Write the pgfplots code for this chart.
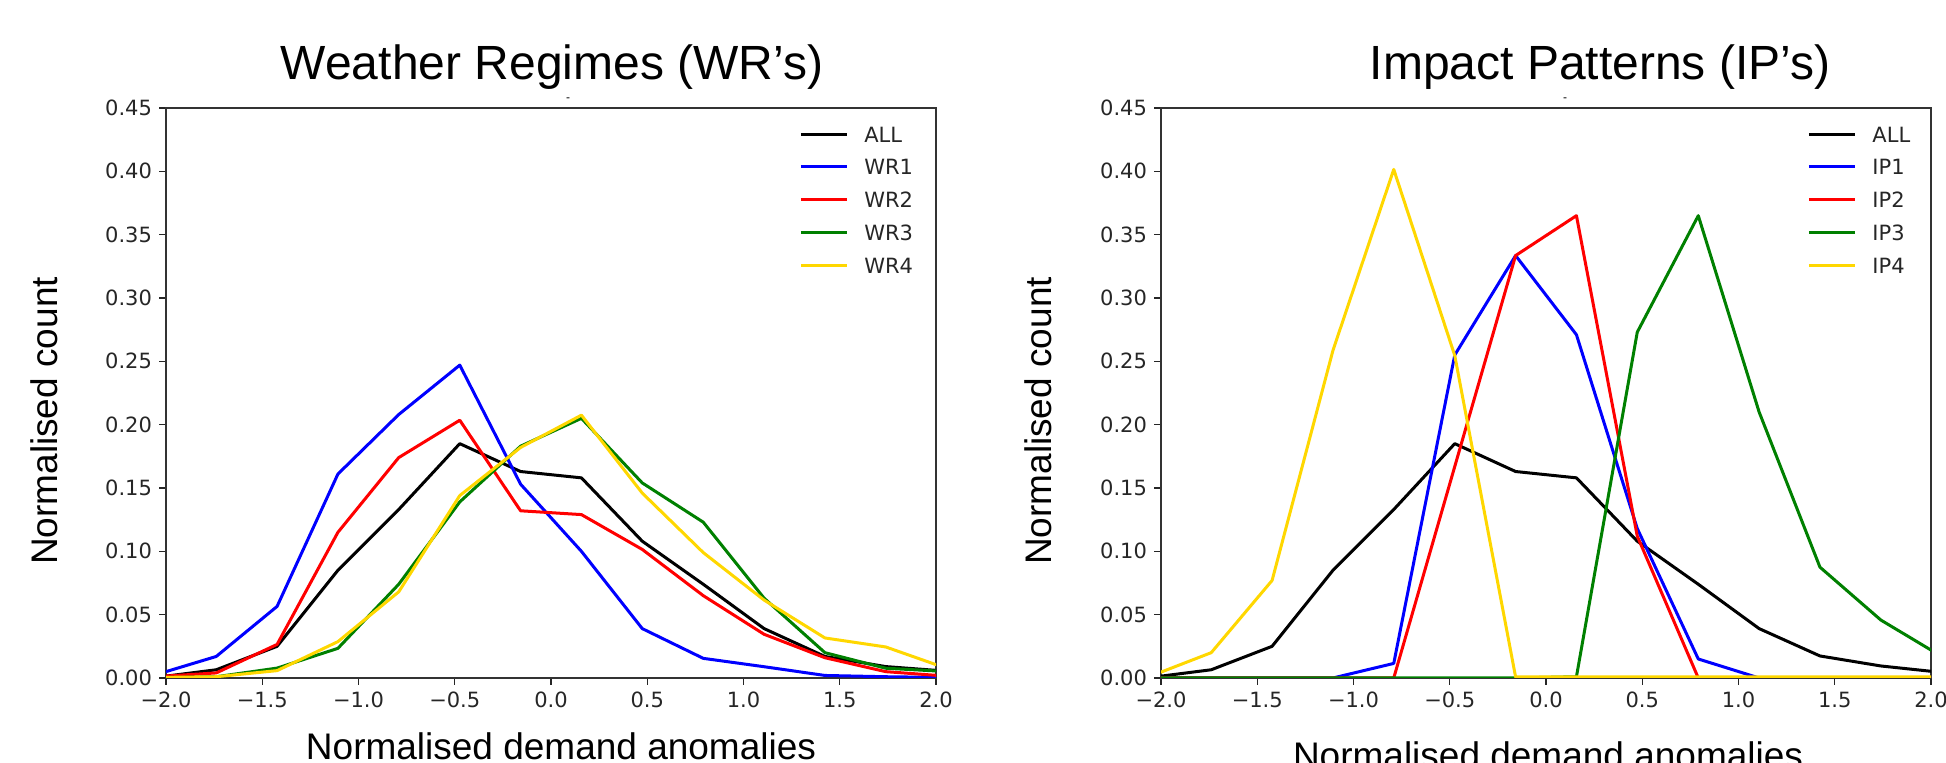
\documentclass[border=0pt]{standalone}
\usepackage{fontspec}
\setmainfont{Liberation Sans}
\newfontfamily\tickfont{DejaVu Sans}
\usepackage{pgfplots}
\usepackage{pgfplotstable}
\pgfplotsset{compat=1.18}

\definecolor{mplgreen}{RGB}{0,128,0}
\definecolor{mplgold}{RGB}{255,215,0}

% bin centres of the histograms; the outer bins lie just past +-2 and get clipped
\pgfplotstableread{
x       all     wr1     wr2     wr3     wr4
-2.055  0.0004  0.0025  0.0010  0.0002  0.0004
-1.739  0.0065  0.0170  0.0040  0.0010  0.0010
-1.423  0.0250  0.0565  0.0265  0.0078  0.0058
-1.107  0.0850  0.1610  0.1150  0.0234  0.0287
-0.791  0.1330  0.2080  0.1740  0.0740  0.0680
-0.474  0.1850  0.2470  0.2035  0.1390  0.1440
-0.158  0.1630  0.1530  0.1320  0.1830  0.1820
0.158   0.1580  0.1000  0.1290  0.2050  0.2075
0.474   0.1080  0.0390  0.1015  0.1540  0.1460
0.791   0.0740  0.0155  0.0650  0.1230  0.0990
1.107   0.0390  0.0089  0.0345  0.0630  0.0615
1.423   0.0170  0.0020  0.0160  0.0200  0.0316
1.739   0.0090  0.0010  0.0050  0.0077  0.0245
2.055   0.0054  0.0004  0.0015  0.0051  0.0076
}\wrdata

\pgfplotstableread{
x       all     ip1     ip2     ip3     ip4
-2.055  0.0004  0       0       0       0.0014
-1.739  0.0065  0       0       0       0.0200
-1.423  0.0250  0       0       0       0.0770
-1.107  0.0850  0       0       0       0.2585
-0.791  0.1330  0.0115  0       0       0.4015
-0.474  0.1850  0.2550  0.1670  0       0.2545
-0.158  0.1630  0.3335  0.3335  0       0.0008
0.158   0.1580  0.2710  0.3650  0.0010  0.0008
0.474   0.1080  0.1180  0.1120  0.2730  0.0008
0.791   0.0740  0.0150  0       0.3650  0.0008
1.107   0.0390  0       0       0.2100  0.0008
1.423   0.0174  0       0       0.0875  0.0008
1.739   0.0095  0       0       0.0458  0.0008
2.055   0.0044  0       0       0.0170  0.0008
}\ipdata

\pgfplotsset{
  panel/.style={
    scale only axis, width=385pt, height=285pt,
    xmin=-2, xmax=2, ymin=0, ymax=0.45,
    xtick={-2,-1.5,-1,-0.5,0,0.5,1,1.5,2},
    xticklabels={−2.0,−1.5,−1.0,−0.5,0.0,0.5,1.0,1.5,2.0},
    ytick={0,0.05,0.1,0.15,0.2,0.25,0.3,0.35,0.4,0.45},
    yticklabels={0.00,0.05,0.10,0.15,0.20,0.25,0.30,0.35,0.40,0.45},
    tick align=outside, tick pos=left,
    major tick length=3.5pt,
    every tick/.style={black!85, line width=0.6pt},
    ticklabel style={font=\tickfont\fontsize{10.5}{12}\selectfont, text=black!85},
    axis line style={line width=0.9pt, black!80},
    every axis plot/.append style={line width=1.5pt, line join=round},
    legend image code/.code={\draw[##1] (0pt,0pt) -- (23pt,0pt);},
    legend cell align=left,
    legend style={draw=none, fill=none, anchor=north west, inner sep=0pt,
      font=\tickfont\fontsize{10.5}{12}\selectfont, text=black!85,
      row sep=8.4pt, column sep=8pt,
      nodes={inner sep=0pt, text height=8pt, text depth=0pt}},
  }
}

\begin{document}
\begin{tikzpicture}[x=1pt,y=1pt]
\path[use as bounding box] (0,0) rectangle (973,381.5);
\clip (0,0) rectangle (973,381.5);

\begin{axis}[panel, at={(83pt,42.5pt)}, anchor=south west,
  legend style={at={(0.822,0.969)}}]
  \addplot[black] table[x=x, y=all] {\wrdata};
  \addplot[blue] table[x=x, y=wr1] {\wrdata};
  \addplot[red] table[x=x, y=wr2] {\wrdata};
  \addplot[mplgreen] table[x=x, y=wr3] {\wrdata};
  \addplot[mplgold] table[x=x, y=wr4] {\wrdata};
  \legend{ALL,WR1,WR2,WR3,WR4}
\end{axis}

\begin{axis}[panel, at={(580.5pt,42.5pt)}, anchor=south west,
  legend style={at={(0.839,0.969)}}]
  \addplot[black] table[x=x, y=all] {\ipdata};
  \addplot[blue] table[x=x, y=ip1] {\ipdata};
  \addplot[red] table[x=x, y=ip2] {\ipdata};
  \addplot[mplgreen] table[x=x, y=ip3] {\ipdata};
  \addplot[mplgold] table[x=x, y=ip4] {\ipdata};
  \legend{ALL,IP1,IP2,IP3,IP4}
\end{axis}

% titles and axis labels
\node[anchor=base, font=\fontsize{24}{28}\selectfont] at (276,341.5) {Weather Regimes (WR’s)};
\node[anchor=base, font=\fontsize{24}{28}\selectfont] at (800,341.5) {Impact Patterns (IP’s)};
\node[font=\fontsize{6}{6}\selectfont] at (284,331.5) {-};
\node[font=\fontsize{6}{6}\selectfont] at (782.5,331.5) {-};
\node[rotate=90, font=\fontsize{18.5}{22}\selectfont] at (22,171) {Normalised count};
\node[rotate=90, font=\fontsize{18.5}{22}\selectfont] at (519,171) {Normalised count};
\node[anchor=base, font=\fontsize{18.5}{22}\selectfont] at (280.5,1.5) {Normalised demand anomalies};
\node[anchor=base, font=\fontsize{18.5}{22}\selectfont] at (774,-2.75) {Normalised demand anomalies};
\end{tikzpicture}
\end{document}
